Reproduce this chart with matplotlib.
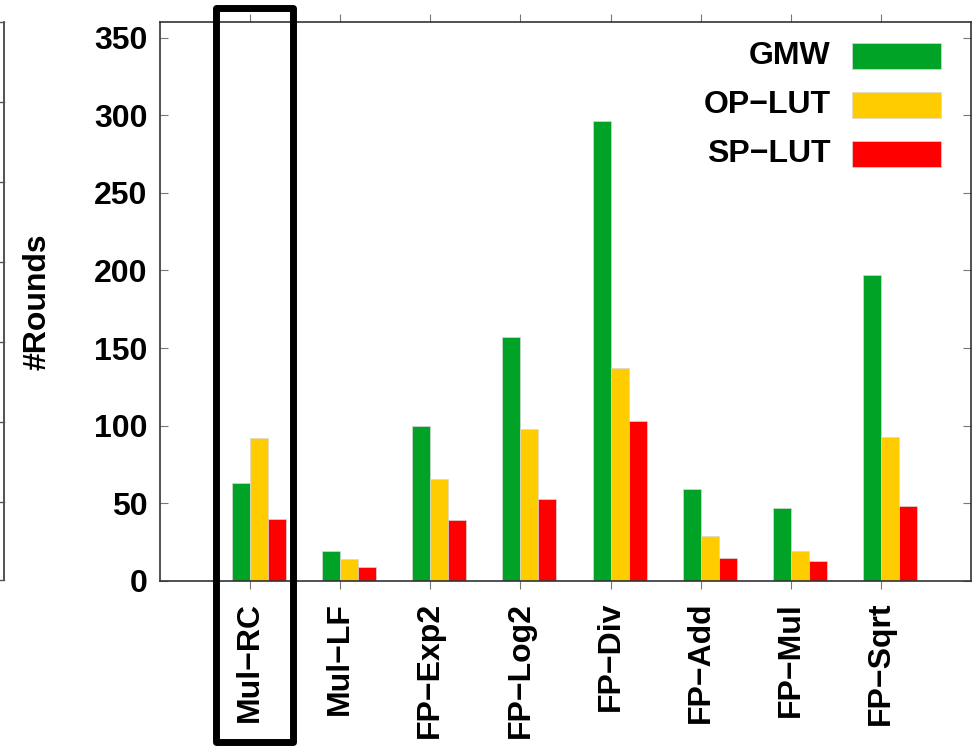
import numpy as np
import matplotlib
matplotlib.use("Agg")
import matplotlib.pyplot as plt
from matplotlib.patches import Rectangle
from matplotlib.lines import Line2D

plt.rcParams['font.family'] = ['Liberation Sans', 'DejaVu Sans']
plt.rcParams['font.weight'] = 'bold'

# data
categories = ["Mul\u2212RC", "Mul\u2212LF", "FP\u2212Exp2", "FP\u2212Log2",
              "FP\u2212Div", "FP\u2212Add", "FP\u2212Mul", "FP\u2212Sqrt"]
gmw = [63, 19, 100, 157, 296, 59, 47, 197]
op_lut = [92, 14, 66, 98, 137, 29, 19, 93]
sp_lut = [40, 9, 39, 53, 103, 15, 13, 48]
series_names = ["GMW", "OP\u2212LUT", "SP\u2212LUT"]
colors = ["#00a326", "#ffcc00", "#ff0000"]

W, H = 973, 747
fig = plt.figure(figsize=(W / 100, H / 100), dpi=100)


def fx(px):
    return px / W


def fy(py):
    return 1 - py / H


ax = fig.add_axes([fx(160), fy(581), fx(971) - fx(160), fy(22) - fy(581)])

x = np.arange(len(categories))
bw = 0.2
for k, vals in enumerate([gmw, op_lut, sp_lut]):
    ax.bar(x - 0.1 + k * bw, vals, width=bw, color=colors[k],
           edgecolor="#d8d8d8", linewidth=0.5, zorder=2)

ax.set_xlim(-1, 8)
ax.set_ylim(0, 360)
ax.set_yticks(np.arange(0, 351, 50))
ax.set_xticks(x)
ax.set_xticklabels(categories, rotation=90, ha="center", va="top")

for s in ax.spines.values():
    s.set_color("#333333")
    s.set_linewidth(1.2)

ax.tick_params(axis="y", direction="in", length=6, width=0.8, color="#777777",
               right=True, labelsize=23, pad=9)
ax.tick_params(axis="x", direction="out", length=6, width=0.8, color="#777777",
               top=True, labelsize=23, pad=9)

fig.text(fx(37), fy(302), "#Rounds", rotation=90, ha="center", va="center",
         fontsize=23, fontweight="bold")

# legend, drawn by hand to match the gnuplot key
for k, name in enumerate(series_names):
    cy = 55.5 + k * 49.2
    fig.text(fx(831), fy(cy), name, ha="right", va="center", fontsize=23,
             fontweight="bold")
    fig.add_artist(Rectangle((fx(852), fy(cy + 13)), fx(941) - fx(852),
                             fy(cy - 13) - fy(cy + 13), transform=fig.transFigure,
                             facecolor=colors[k], edgecolor="#d8d8d8", linewidth=0.5))

# neighbouring panel's right axis at the left edge
gx = fx(3.5)
fig.add_artist(Line2D([gx, gx], [fy(22), fy(580)], color="#333333", lw=1.2))
for ty in [22, 102, 182, 262, 342, 422, 502, 580]:
    fig.add_artist(Line2D([0, gx], [fy(ty), fy(ty)], color="#555555", lw=1.0))

# highlight box around Mul-RC
fig.add_artist(Rectangle((fx(215.5), fy(742)), fx(292.5) - fx(215.5),
                         fy(7.5) - fy(742), transform=fig.transFigure,
                         fill=False, edgecolor="black", linewidth=5.0,
                         joinstyle="round", zorder=10))

fig.savefig("out.png", dpi=100)
